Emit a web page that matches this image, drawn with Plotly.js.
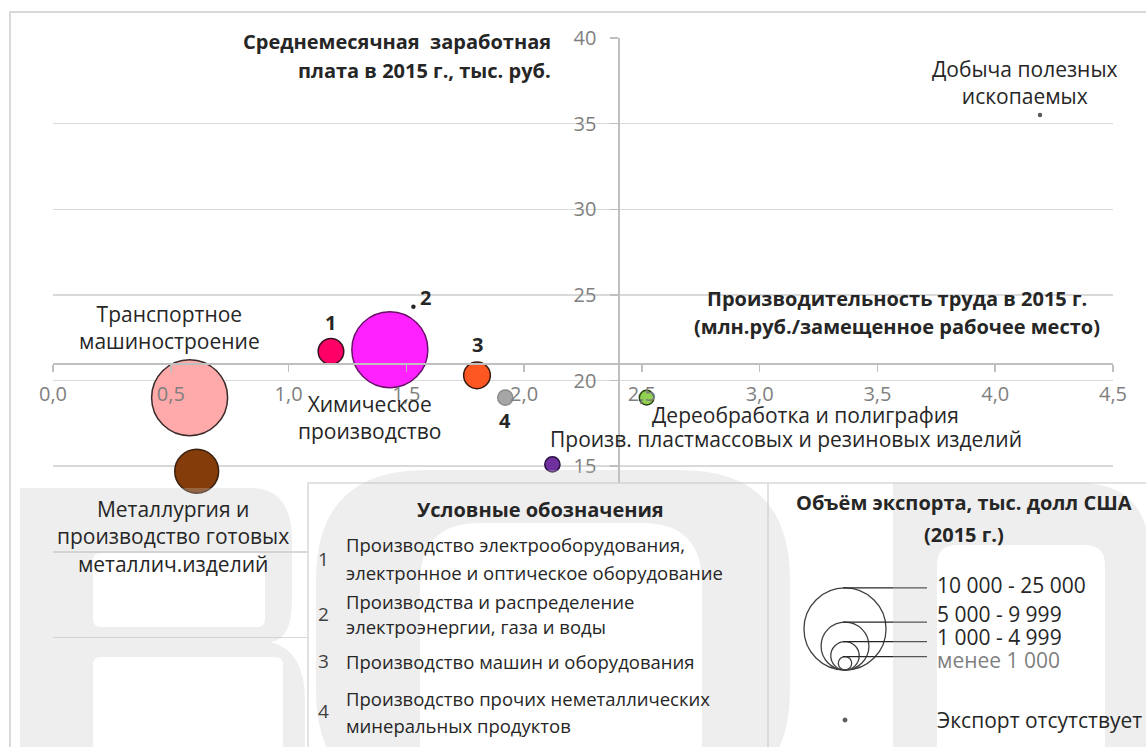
<!DOCTYPE html>
<html>
<head>
<meta charset="utf-8">
<script src="https://cdn.plot.ly/plotly-3.0.1.min.js"></script>
<style>
  html, body { margin: 0; padding: 0; background: #ffffff; }
  #chart { width: 1146px; height: 747px; }
</style>
</head>
<body>
<div id="chart"></div>
<script>
// ---------------- DATA ----------------
const industries = [
  'Транспортное машиностроение',
  'Металлургия и производство готовых металлич.изделий',
  'Производство электрооборудования, электронное и оптическое оборудование',
  'Химическое производство',
  'Производства и распределение электроэнергии, газа и воды',
  'Производство машин и оборудования',
  'Производство прочих неметаллических минеральных продуктов',
  'Произв. пластмассовых и резиновых изделий',
  'Дереобработка и полиграфия',
  'Добыча полезных ископаемых'
];
// Производительность труда, млн руб. / замещенное рабочее место
const productivity = [0.58, 0.61, 1.18, 1.43, 1.53, 1.80, 1.92, 2.12, 2.52, 4.19];
// Среднемесячная заработная плата, тыс. руб.
const salary = [19.0, 14.7, 21.7, 21.8, 24.3, 20.3, 19.0, 15.1, 19.0, 35.5];
// Объём экспорта, тыс. долл США (0 = экспорт отсутствует)
const exportVolume = [15000, 5000, 1700, 15000, 0, 1850, 600, 600, 550, 0];
// Подписи точек
const pointLabels = [
  'Транспортное<br>машиностроение',
  'Металлургия и<br>производство готовых<br>металлич.изделий',
  '<b>1</b>',
  'Химическое<br>производство',
  '<b>2</b>',
  '<b>3</b>',
  '<b>4</b>',
  'Произв. пластмассовых и резиновых изделий',
  'Дереобработка и полиграфия',
  'Добыча полезных<br>ископаемых'
];
const xTickVals = [0, 0.5, 1, 1.5, 2, 2.5, 3, 3.5, 4, 4.5];
const yTickVals = [0, 5, 10, 15, 20, 25, 30, 35, 40];
const yTickText = ['', '', '', '15', '20', '25', '30', '35', '40'];

const yTitleLines = ['Среднемесячная  заработная', 'плата в 2015 г., тыс. руб.'];
const xTitleLines = ['Производительность труда в 2015 г.', '(млн.руб./замещенное рабочее место)'];
const legendTitle = 'Условные обозначения';
const legendNumbers = ['1', '2', '3', '4'];
const legendItemLines = [
  ['Производство электрооборудования,', 'электронное и оптическое оборудование'],
  ['Производства и распределение', 'электроэнергии, газа и воды'],
  ['Производство машин и оборудования'],
  ['Производство прочих неметаллических', 'минеральных продуктов']
];
const sizeTitleLines = ['Объём экспорта, тыс. долл США', '(2015 г.)'];
const exportClasses = ['10 000 - 25 000', '5 000 - 9 999', '1 000 - 4 999', 'менее 1 000'];
const exportClassRef = [15000, 5100, 1800, 400];
const noExportText = 'Экспорт отсутствует';

// ---------------- STYLE ----------------
const FONT = 'Open Sans, Noto Sans, sans-serif';
const colors = ['#ffaaaa', '#843c0b', '#ff0066', '#ff21ff', '#262626', '#ff5722', '#a6a6a6', '#7030a0', '#92d050', '#595959'];
const lineColors = ['#3a2a2a', '#3a2010', '#3a1020', '#6a106a', '#262626', '#3a1a10', '#8c8c8c', '#2a1040', '#2a4010', '#595959'];
// label offsets in px: [xshift, yshift, xanchor, fontsize]
const labelOffsets = [
  [-20, 70, 'center', 21], [-24, -65, 'center', 21], [0, 29, 'center', 20], [-20, -68, 'center', 21],
  [12, 9, 'center', 20], [0, 31, 'center', 20], [0, -23, 'center', 20], [-4, 25, 'left', 21],
  [3, -17, 'left', 21], [-15, 33, 'center', 21]
];

const W = 1146, H = 747;
const M = { l: 53, r: 33, t: 38, b: 24 };
const PW = W - M.l - M.r, PH = H - M.t - M.b;
const px = v => (v - M.l) / PW;
const py = v => 1 - (v - M.t) / PH;

// Plotly area mode: diameter = sqrt(2 * v / sizeref)
const SIZEREF = 2 * 15000 / (76 * 76);
const diam = v => Math.sqrt(2 * v / SIZEREF);

const withExport = exportVolume.map((v, i) => v > 0 ? i : -1).filter(i => i >= 0);
const noExport = exportVolume.map((v, i) => v === 0 ? i : -1).filter(i => i >= 0);

const bubbles = {
  type: 'scatter', mode: 'markers',
  x: withExport.map(i => productivity[i]),
  y: withExport.map(i => salary[i]),
  text: withExport.map(i => industries[i]),
  hoverinfo: 'text',
  marker: {
    size: withExport.map(i => exportVolume[i]),
    sizemode: 'area', sizeref: SIZEREF,
    color: withExport.map(i => colors[i]),
    opacity: 1,
    line: { color: withExport.map(i => lineColors[i]), width: 1.5 }
  },
  showlegend: false
};
const dots = {
  type: 'scatter', mode: 'markers',
  x: noExport.map(i => productivity[i]),
  y: noExport.map(i => salary[i]),
  text: noExport.map(i => industries[i]),
  hoverinfo: 'text',
  marker: { size: 4.5, color: noExport.map(i => colors[i]), line: { width: 0 } },
  showlegend: false
};

const annotations = [];
const ann = (x, y, text, opts) => annotations.push(Object.assign({
  xref: 'paper', yref: 'paper', x: px(x), y: py(y), text: text, showarrow: false,
  xanchor: 'center', yanchor: 'middle'
}, opts));

// point labels
pointLabels.forEach((t, i) => {
  annotations.push({
    xref: 'x', yref: 'y', x: productivity[i], y: salary[i],
    xshift: labelOffsets[i][0], yshift: labelOffsets[i][1],
    xanchor: labelOffsets[i][2], yanchor: 'middle',
    text: t, showarrow: false, align: 'center',
    font: { family: FONT, size: labelOffsets[i][3], color: '#262626' }
  });
});
// axis titles
const boldFont = { family: FONT, size: 20, color: '#262626' };
ann(553, 41, '<b>' + yTitleLines[0] + '</b>', { xanchor: 'right', font: boldFont });
ann(553, 70, '<b>' + yTitleLines[1] + '</b>', { xanchor: 'right', font: boldFont });
ann(897, 298, '<b>' + xTitleLines[0] + '</b>', { font: boldFont });
ann(897, 326, '<b>' + xTitleLines[1] + '</b>', { font: boldFont });
// legend (left panel)
ann(540, 509, '<b>' + legendTitle + '</b>', { font: boldFont });
const numY = [559, 614, 661, 711];
const lineY = [[544, 572], [601, 626], [661], [698, 725]];
legendItemLines.forEach((lines, i) => {
  ann(323, numY[i], legendNumbers[i], { font: { family: FONT, size: 19, color: '#404040' } });
  lines.forEach((t, j) => {
    ann(344, lineY[i][j], t, { xanchor: 'left', font: { family: FONT, size: 18.5, color: '#262626' } });
  });
});
// legend (right panel)
ann(964, 503, '<b>' + sizeTitleLines[0] + '</b>', { font: boldFont });
ann(964, 534, '<b>' + sizeTitleLines[1] + '</b>', { font: boldFont });
const classY = [585, 614, 637, 660];
exportClasses.forEach((t, i) => {
  ann(935, classY[i], t, { xanchor: 'left', font: { family: FONT, size: 21, color: i === 3 ? '#7f7f7f' : '#262626' } });
});
ann(935, 720, noExportText, { xanchor: 'left', font: { family: FONT, size: 21, color: '#262626' } });

const shapes = [];
// outer chart border
shapes.push({ type: 'rect', xref: 'paper', yref: 'paper', x0: px(10), x1: px(1170), y0: py(12), y1: py(770),
  line: { color: '#d9d9d9', width: 2 }, fillcolor: 'rgba(0,0,0,0)', layer: 'below' });
// legend box
shapes.push({ type: 'rect', xref: 'paper', yref: 'paper', x0: px(308), x1: px(1170), y0: py(483), y1: py(770),
  line: { color: '#d9d9d9', width: 1.5 }, fillcolor: '#ffffff', layer: 'above' });
shapes.push({ type: 'line', xref: 'paper', yref: 'paper', x0: px(768), x1: px(768), y0: py(483), y1: py(770),
  line: { color: '#d9d9d9', width: 1.5 }, layer: 'above' });
// nested size-legend circles, tangent at bottom
const circBottom = 670, circCx = 845, leaderEnd = 927;
exportClassRef.forEach((v, i) => {
  const d = diam(v) * 1.08;
  const top = circBottom - d;
  shapes.push({ type: 'circle', xref: 'paper', yref: 'paper',
    x0: px(circCx - d / 2), x1: px(circCx + d / 2), y0: py(circBottom), y1: py(top),
    line: { color: '#404040', width: 1.3 }, fillcolor: 'rgba(0,0,0,0)', layer: 'above' });
  shapes.push({ type: 'line', xref: 'paper', yref: 'paper',
    x0: px(circCx - 2), x1: px(leaderEnd), y0: py(top), y1: py(top),
    line: { color: '#262626', width: 1.3 }, layer: 'above' });
});
// "export absent" dot
shapes.push({ type: 'circle', xref: 'paper', yref: 'paper',
  x0: px(843), x1: px(847), y0: py(722), y1: py(718),
  line: { color: '#595959', width: 1 }, fillcolor: '#595959', layer: 'above' });

// light background watermark (overlay), drawn in pixel coordinates converted to paper
const P = (x, y) => px(x).toFixed(5) + ',' + py(y).toFixed(5);
const rrect = (x0, y0, x1, y1, r) =>
  'M' + P(x0 + r, y0) + ' L' + P(x1 - r, y0) + ' Q' + P(x1, y0) + ' ' + P(x1, y0 + r) +
  ' L' + P(x1, y1 - r) + ' Q' + P(x1, y1) + ' ' + P(x1 - r, y1) +
  ' L' + P(x0 + r, y1) + ' Q' + P(x0, y1) + ' ' + P(x0, y1 - r) +
  ' L' + P(x0, y0 + r) + ' Q' + P(x0, y0) + ' ' + P(x0 + r, y0) + ' Z';
const wm = { type: 'path', xref: 'paper', yref: 'paper', layer: 'above', fillrule: 'evenodd',
  fillcolor: 'rgba(200,200,200,0.3)', line: { width: 0 } };
// "B"
shapes.push(Object.assign({}, wm, { path:
  'M' + P(20, 488) + ' L' + P(250, 488) + ' Q' + P(292, 488) + ' ' + P(292, 540) +
  ' L' + P(292, 600) + ' Q' + P(292, 640) + ' ' + P(270, 642) + ' Q' + P(305, 650) + ' ' + P(305, 700) +
  ' L' + P(305, 760) + ' L' + P(20, 760) + ' Z ' +
  rrect(93, 553, 265, 627, 8) + ' ' + rrect(93, 657, 283, 780, 8) }));
// "O"
shapes.push(Object.assign({}, wm, { path:
  rrect(316, 470, 790, 800, 110) + ' ' + rrect(420, 523, 702, 800, 60) }));
// "R"
shapes.push(Object.assign({}, wm, { path:
  'M' + P(893, 483) + ' L' + P(1080, 483) + ' Q' + P(1150, 483) + ' ' + P(1150, 560) +
  ' L' + P(1150, 760) + ' L' + P(893, 760) + ' Z ' + rrect(937, 545, 1105, 800, 20) }));

const layout = {
  width: W, height: H,
  margin: M,
  paper_bgcolor: '#ffffff', plot_bgcolor: '#ffffff',
  separators: ', ',
  font: { family: FONT, color: '#262626' },
  showlegend: false,
  xaxis: {
    range: [0, 4.5], anchor: 'free', position: 21 / 40,
    showgrid: false, zeroline: false,
    showline: true, linecolor: '#bfbfbf', linewidth: 1.5,
    ticks: 'outside', ticklen: 7, tickcolor: '#bfbfbf', tickwidth: 1.5,
    tickvals: xTickVals, tickformat: '.1f', ticklabelstandoff: 5,
    tickfont: { family: FONT, size: 20, color: '#7f7f7f' }
  },
  yaxis: {
    range: [0, 40], anchor: 'free', position: 2.4 / 4.5,
    showgrid: true, gridcolor: '#d9d9d9', gridwidth: 1.5, zeroline: false,
    showline: true, linecolor: '#bfbfbf', linewidth: 1.5,
    ticks: 'outside', ticklen: 8, tickcolor: '#bfbfbf', tickwidth: 1.5,
    tickvals: yTickVals, ticktext: yTickText, ticklabelstandoff: 10,
    tickfont: { family: FONT, size: 20, color: '#7f7f7f' }
  },
  annotations: annotations,
  shapes: shapes
};

Plotly.newPlot('chart', [bubbles, dots], layout, { displayModeBar: false, staticPlot: true });
</script>
</body>
</html>
